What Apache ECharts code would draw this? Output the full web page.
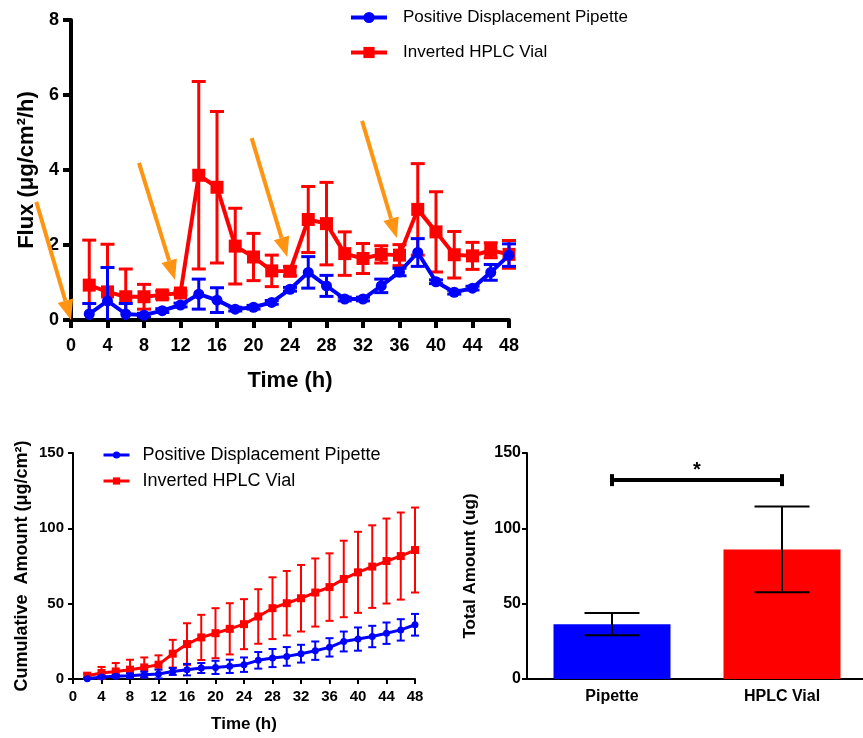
<!DOCTYPE html>
<html>
<head>
<meta charset="utf-8">
<script src="https://cdn.jsdelivr.net/npm/echarts@6/dist/echarts.min.js"></script>
<style>
html, body { margin: 0; padding: 0; background: #fff; }
#main { width: 863px; height: 738px; }
</style>
</head>
<body>
<div id="main"></div>
<script>
// sampling times (h)
var hours = [2, 4, 6, 8, 10, 12, 14, 16, 18, 20, 22, 24, 26, 28, 30, 32, 34, 36, 38, 40, 42, 44, 46, 48];

// flux (ug/cm2/h), mean and SD
var fluxPipette   = [0.16, 0.51, 0.16, 0.13, 0.25, 0.40, 0.69, 0.53, 0.29, 0.34, 0.47, 0.82, 1.27, 0.91, 0.56, 0.56, 0.91, 1.28, 1.80, 1.02, 0.74, 0.85, 1.27, 1.73];
var fluxPipetteSd = [0.28, 0.89, 0.28, 0.05, 0.05, 0.05, 0.40, 0.33, 0.05, 0.05, 0.05, 0.05, 0.42, 0.28, 0.05, 0.05, 0.18, 0.10, 0.37, 0.05, 0.05, 0.05, 0.21, 0.30];
var fluxVial      = [0.93, 0.75, 0.62, 0.62, 0.67, 0.72, 3.86, 3.54, 1.97, 1.68, 1.31, 1.30, 2.68, 2.57, 1.77, 1.64, 1.75, 1.73, 2.95, 2.35, 1.74, 1.71, 1.86, 1.75];
var fluxVialSd    = [1.20, 1.27, 0.74, 0.33, 0.10, 0.05, 2.50, 2.02, 1.01, 0.63, 0.42, 0.12, 0.88, 1.10, 0.58, 0.40, 0.23, 0.28, 1.22, 1.07, 0.62, 0.36, 0.20, 0.37];

// cumulative amount (ug/cm2), mean and SD
var cumPipette   = [0.2, 1.3, 1.8, 2.2, 2.9, 3.3, 5.0, 6.2, 7.3, 7.7, 8.4, 9.5, 12.4, 13.9, 15.0, 16.8, 18.8, 21.0, 24.9, 26.5, 28.2, 30.4, 32.6, 36.0];
var cumPipetteSd = [0.3, 0.8, 1.0, 1.5, 2.0, 2.9, 2.3, 3.8, 3.3, 4.4, 4.4, 4.8, 5.5, 6.0, 6.2, 5.9, 6.1, 6.1, 6.6, 7.7, 7.1, 7.1, 7.1, 7.2];
var cumVial      = [2.2, 4.0, 5.0, 6.2, 7.7, 9.5, 16.8, 23.2, 27.6, 30.4, 33.3, 36.4, 41.5, 47.0, 50.3, 53.6, 57.4, 61.0, 66.4, 70.8, 74.6, 78.3, 81.6, 85.6];
var cumVialSd    = [1.3, 4.0, 5.6, 6.6, 6.6, 6.2, 9.2, 13.8, 15.0, 16.6, 17.0, 16.6, 18.1, 20.5, 21.4, 22.1, 22.6, 22.4, 25.4, 26.9, 27.4, 28.2, 28.9, 28.2];

// total amount (ug)
var totalCats = ['Pipette', 'HPLC Vial'];
var totalMean = [36.4, 86.0];
var totalSd   = [7.4, 28.5];
var sigLevel  = 132;

// orange arrows on the flux plot: [fromX, fromY, toX, toY]
var arrows = [[-3.8, 3.15, 0, 0], [7.45, 4.19, 11.4, 1.07], [19.8, 4.85, 23.7, 1.68], [31.9, 5.31, 35.7, 2.19]];

var FONT = "'Liberation Sans', Arial, sans-serif";
var BLUE = '#0000ff', RED = '#ff0000', ORANGE = '#ff9412';
var names = ['Positive Displacement Pipette', 'Inverted HPLC Vial'];

function pack(mean, sd) {
    return hours.map(function (h, i) { return [h, mean[i], sd[i]]; });
}

// error bar drawer, lower end clipped to the axis floor
function errBar(color, cap, lw) {
    return function (params, api) {
        var x = api.value(0), m = api.value(1), s = api.value(2);
        var lo = m - s, clipped = lo < 0;
        if (clipped) lo = 0;
        var a = api.coord([x, lo]), b = api.coord([x, m + s]);
        var st = { stroke: color, lineWidth: lw };
        var kids = [
            { type: 'line', shape: { x1: a[0], y1: a[1], x2: b[0], y2: b[1] }, style: st },
            { type: 'line', shape: { x1: b[0] - cap / 2, y1: b[1], x2: b[0] + cap / 2, y2: b[1] }, style: st }
        ];
        if (!clipped) kids.push({ type: 'line', shape: { x1: a[0] - cap / 2, y1: a[1], x2: a[0] + cap / 2, y2: a[1] }, style: st });
        return { type: 'group', children: kids };
    };
}

function arrowItem(params, api) {
    var p = api.coord([api.value(0), api.value(1)]);
    var q = api.coord([api.value(2), api.value(3)]);
    var dx = q[0] - p[0], dy = q[1] - p[1];
    var len = Math.sqrt(dx * dx + dy * dy);
    var ux = dx / len, uy = dy / len;
    var hl = 20, hw = 8;
    var bx = q[0] - ux * hl, by = q[1] - uy * hl;
    return {
        type: 'group',
        children: [
            { type: 'line', shape: { x1: p[0], y1: p[1], x2: bx, y2: by }, style: { stroke: ORANGE, lineWidth: 4 } },
            { type: 'polygon', shape: { points: [[q[0], q[1]], [bx - uy * hw, by + ux * hw], [bx + uy * hw, by - ux * hw]] }, style: { fill: ORANGE } }
        ]
    };
}

function bracketItem(params, api) {
    var a = api.coord([api.value(0), api.value(2)]);
    var b = api.coord([api.value(1), api.value(2)]);
    var st = { stroke: '#000', lineWidth: 4 };
    return {
        type: 'group',
        children: [
            { type: 'line', shape: { x1: a[0], y1: a[1], x2: b[0], y2: b[1] }, style: st },
            { type: 'line', shape: { x1: a[0], y1: a[1] - 6, x2: a[0], y2: a[1] + 6 }, style: st },
            { type: 'line', shape: { x1: b[0], y1: b[1] - 6, x2: b[0], y2: b[1] + 6 }, style: st },
            { type: 'text', x: (a[0] + b[0]) / 2, y: a[1] - 10, style: { text: '*', fill: '#000', font: 'bold 20px ' + FONT, align: 'center', verticalAlign: 'middle' } }
        ]
    };
}

function timeAxis(grid, lw, fs, gap, nameFs, margin, tick) {
    return {
        type: 'value', gridIndex: grid, min: 0, max: 48, interval: 4,
        name: 'Time (h)', nameLocation: 'middle', nameGap: gap,
        nameTextStyle: { fontFamily: FONT, fontWeight: 'bold', fontSize: nameFs, color: '#000' },
        axisLine: { show: true, lineStyle: { color: '#000', width: lw } },
        axisTick: { show: true, length: tick, lineStyle: { color: '#000', width: lw } },
        axisLabel: { fontFamily: FONT, fontWeight: 'bold', fontSize: fs, color: '#000', margin: margin },
        splitLine: { show: false }
    };
}

var myChart = echarts.init(document.getElementById('main'));

var option = {
    animation: false,
    backgroundColor: '#fff',
    grid: [
        { left: 71, top: 20, width: 438, height: 300, outerBoundsMode: 'none' },
        { left: 73, top: 453, width: 342, height: 226, outerBoundsMode: 'none' },
        { left: 527, top: 453, width: 340, height: 226, outerBoundsMode: 'none' }
    ],
    legend: [
        {
            data: names, orient: 'vertical', left: 349, top: 9, padding: 0, itemWidth: 36, itemHeight: 14, itemGap: 18,
            lineStyle: { width: 4 },
            textStyle: { fontFamily: FONT, fontSize: 17, color: '#000', padding: [0, 0, 0, 11] }
        },
        {
            data: names, orient: 'vertical', left: 102, top: 446, padding: 0, itemWidth: 26, itemHeight: 9, itemGap: 8,
            lineStyle: { width: 3 },
            textStyle: { fontFamily: FONT, fontSize: 18, color: '#000', padding: [0, 0, 0, 8] }
        }
    ],
    xAxis: [
        timeAxis(0, 4, 18, 50, 22, 17, 8),
        timeAxis(1, 2, 15, 37, 17, 10, 5),
        {
            type: 'category', gridIndex: 2, data: totalCats,
            axisLine: { lineStyle: { color: '#000', width: 2 } },
            axisTick: { show: false },
            axisLabel: { fontFamily: FONT, fontWeight: 'bold', fontSize: 16, color: '#000', margin: 10 }
        }
    ],
    yAxis: [
        {
            type: 'value', gridIndex: 0, min: 0, max: 8, interval: 2,
            name: 'Flux (\u03bcg/cm\u00b2/h)', nameLocation: 'middle', nameGap: 33,
            nameTextStyle: { fontFamily: FONT, fontWeight: 'bold', fontSize: 22, color: '#000' },
            axisLine: { show: true, lineStyle: { color: '#000', width: 4 } },
            axisTick: { show: true, length: 8, lineStyle: { color: '#000', width: 4 } },
            axisLabel: { fontFamily: FONT, fontWeight: 'bold', fontSize: 18, color: '#000', margin: 12 },
            splitLine: { show: false }
        },
        {
            type: 'value', gridIndex: 1, min: 0, max: 150, interval: 50,
            name: 'Cumulative  Amount (\u03bcg/cm\u00b2)', nameLocation: 'middle', nameGap: 42,
            nameTextStyle: { fontFamily: FONT, fontWeight: 'bold', fontSize: 18, color: '#000' },
            axisLine: { show: true, lineStyle: { color: '#000', width: 2 } },
            axisTick: { show: true, length: 5, lineStyle: { color: '#000', width: 2 } },
            axisLabel: { fontFamily: FONT, fontWeight: 'bold', fontSize: 15, color: '#000', margin: 9 },
            splitLine: { show: false }
        },
        {
            type: 'value', gridIndex: 2, min: 0, max: 150, interval: 50,
            name: 'Total Amount (ug)', nameLocation: 'middle', nameGap: 48,
            nameTextStyle: { fontFamily: FONT, fontWeight: 'bold', fontSize: 17, color: '#000' },
            axisLine: { show: true, lineStyle: { color: '#000', width: 2 } },
            axisTick: { show: true, length: 5, lineStyle: { color: '#000', width: 2 } },
            axisLabel: { fontFamily: FONT, fontWeight: 'bold', fontSize: 16, color: '#000', margin: 6 },
            splitLine: { show: false }
        }
    ],
    series: [
        // flux
        { type: 'custom', xAxisIndex: 0, yAxisIndex: 0, renderItem: errBar(RED, 14, 3), data: pack(fluxVial, fluxVialSd), encode: { x: 0, y: 1 }, silent: true, z: 2 },
        {
            name: names[1], type: 'line', xAxisIndex: 0, yAxisIndex: 0, data: hours.map(function (h, i) { return [h, fluxVial[i]]; }),
            symbol: 'rect', symbolSize: 13, lineStyle: { color: RED, width: 4 }, itemStyle: { color: RED }, z: 3
        },
        { type: 'custom', xAxisIndex: 0, yAxisIndex: 0, renderItem: errBar(BLUE, 14, 3), data: pack(fluxPipette, fluxPipetteSd), encode: { x: 0, y: 1 }, silent: true, z: 4 },
        {
            name: names[0], type: 'line', xAxisIndex: 0, yAxisIndex: 0, data: hours.map(function (h, i) { return [h, fluxPipette[i]]; }),
            symbol: 'circle', symbolSize: 11, lineStyle: { color: BLUE, width: 4 }, itemStyle: { color: BLUE }, z: 5
        },
        { type: 'custom', xAxisIndex: 0, yAxisIndex: 0, renderItem: arrowItem, data: arrows, encode: { x: 0, y: 1 }, silent: true, z: 10 },

        // cumulative
        { type: 'custom', xAxisIndex: 1, yAxisIndex: 1, renderItem: errBar(RED, 8, 2), data: pack(cumVial, cumVialSd), encode: { x: 0, y: 1 }, silent: true, z: 2 },
        {
            name: names[1], type: 'line', xAxisIndex: 1, yAxisIndex: 1, data: hours.map(function (h, i) { return [h, cumVial[i]]; }),
            symbol: 'rect', symbolSize: 8, lineStyle: { color: RED, width: 3 }, itemStyle: { color: RED }, z: 3
        },
        { type: 'custom', xAxisIndex: 1, yAxisIndex: 1, renderItem: errBar(BLUE, 8, 2), data: pack(cumPipette, cumPipetteSd), encode: { x: 0, y: 1 }, silent: true, z: 4 },
        {
            name: names[0], type: 'line', xAxisIndex: 1, yAxisIndex: 1, data: hours.map(function (h, i) { return [h, cumPipette[i]]; }),
            symbol: 'circle', symbolSize: 7, lineStyle: { color: BLUE, width: 3 }, itemStyle: { color: BLUE }, z: 5
        },

        // total amount
        {
            type: 'bar', xAxisIndex: 2, yAxisIndex: 2, barWidth: 117,
            data: totalMean.map(function (v, i) { return { value: v, itemStyle: { color: i === 0 ? BLUE : RED } }; })
        },
        {
            type: 'custom', xAxisIndex: 2, yAxisIndex: 2, renderItem: errBar('#000', 55, 2),
            data: totalMean.map(function (v, i) { return [i, v, totalSd[i]]; }), encode: { x: 0, y: 1 }, silent: true, z: 5
        },
        {
            type: 'custom', xAxisIndex: 2, yAxisIndex: 2, renderItem: bracketItem,
            data: [[0, 1, sigLevel]], encode: { x: 0, y: 2 }, silent: true, z: 6
        }
    ]
};

myChart.setOption(option);
</script>
</body>
</html>
